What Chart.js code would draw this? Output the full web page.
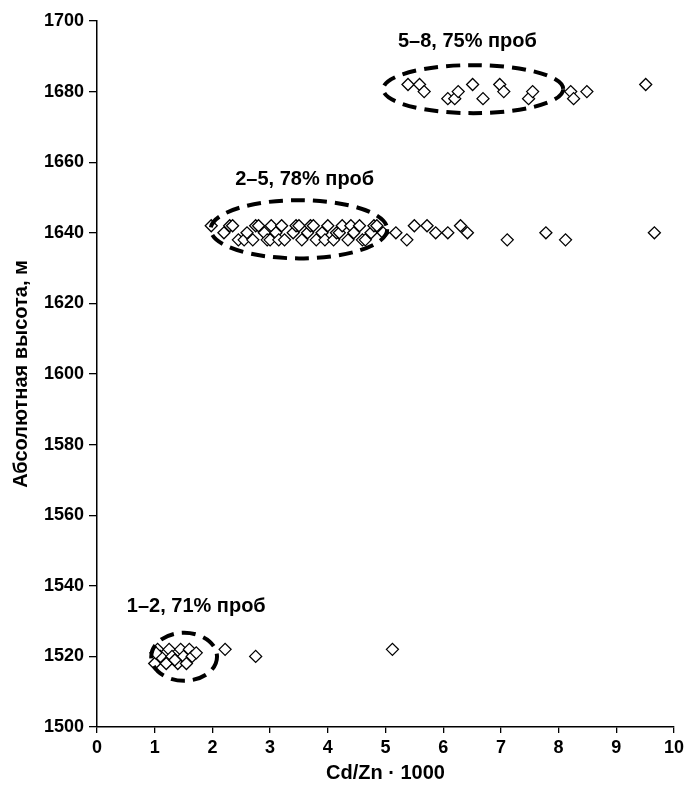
<!DOCTYPE html>
<html lang="ru">
<head>
    <meta charset="UTF-8">
    <title>Cd/Zn</title>
    <script src="https://cdn.jsdelivr.net/npm/chart.js"></script>
    <style>
        body { margin: 0; background: #fff; }
    </style>
</head>
<body>
    <div style="width: 688px; height: 786px;">
        <canvas id="grafico1"></canvas>
    </div>
    <script>
        // точки: Cd/Zn*1000 и абсолютная высота
        const x12 = [1.0, 1.05, 1.1, 1.2, 1.25, 1.3, 1.4, 1.45, 1.5, 1.55, 1.6, 1.65, 1.72, 1.02, 1.35, 2.22, 2.75, 5.12]
        const y12 = [1518, 1522, 1520, 1518, 1522, 1520, 1518, 1522, 1520, 1518, 1522, 1520, 1521, 1521, 1519, 1522, 1520, 1522]

        const x25 = [1.98, 2.2, 2.3, 2.35, 2.45, 2.55, 2.6, 2.7, 2.75, 2.8, 2.9, 2.95, 3.0, 3.02, 3.1, 3.15, 3.2, 3.25, 3.4, 3.45, 3.5, 3.55, 3.65, 3.7, 3.75, 3.8, 3.9, 3.95,
                     4.0, 4.1, 4.15, 4.2, 4.25, 4.35, 4.4, 4.45, 4.55, 4.6, 4.65, 4.75, 4.8, 4.85, 4.96,
                     5.18, 5.37, 5.5, 5.72, 5.87, 6.08, 6.3, 6.42, 7.11, 7.78, 8.12, 9.66]
        const y25 = [1642, 1640, 1642, 1642, 1638, 1638, 1640, 1638, 1642, 1642, 1640, 1638, 1638, 1642, 1640, 1638, 1642, 1638, 1640, 1642, 1642, 1638, 1640, 1642, 1642, 1638, 1640, 1638,
                     1642, 1638, 1640, 1640, 1642, 1638, 1642, 1640, 1642, 1638, 1638, 1640, 1642, 1642, 1640,
                     1640, 1638, 1642, 1642, 1640, 1640, 1642, 1640, 1638, 1640, 1638, 1640]

        const x58 = [5.39, 5.59, 5.67, 6.08, 6.2, 6.26, 6.51, 6.69, 6.98, 7.05, 7.48, 7.55, 8.21, 8.26, 8.49, 9.51]
        const y58 = [1682, 1682, 1680, 1678, 1678, 1680, 1682, 1678, 1682, 1680, 1678, 1680, 1680, 1678, 1680, 1682]

        // подписи групп и эллипсы (центр, полуоси в единицах осей)
        const grupos = ["1–2, 71% проб", "2–5, 78% проб", "5–8, 75% проб"]
        const grupoX = [1.72, 3.6, 6.42]
        const grupoY = [1534.0, 1655.2, 1694.3]
        const elipseX = [1.51, 3.5, 6.52]
        const elipseY = [1519.9, 1641, 1680.7]
        const elipseRx = [0.57, 1.53, 1.56]
        const elipseRy = [6.8, 8.25, 6.8]

        const pontos = (xs, ys) => xs.map((x, i) => ({ x: x, y: ys[i] }))
        const todos = pontos(x12, y12).concat(pontos(x25, y25), pontos(x58, y58))

        const fonte = "'Liberation Sans', Arial, sans-serif"

        const elipses = {
          id: 'elipses',
          afterDatasetsDraw(chart) {
            const c = chart.ctx
            const sx = chart.scales.x
            const sy = chart.scales.y
            c.save()
            c.strokeStyle = '#000'
            c.lineWidth = 4
            c.setLineDash([14, 8])
            for (let i = 0; i < elipseX.length; i++) {
              const cx = sx.getPixelForValue(elipseX[i])
              const cy = sy.getPixelForValue(elipseY[i])
              const rx = sx.getPixelForValue(elipseX[i] + elipseRx[i]) - cx
              const ry = cy - sy.getPixelForValue(elipseY[i] + elipseRy[i])
              c.beginPath()
              c.ellipse(cx, cy, rx, ry, 0, 0, Math.PI * 2)
              c.stroke()
            }
            c.setLineDash([])
            c.fillStyle = '#000'
            c.font = "bold 20px " + fonte
            c.textAlign = 'center'
            c.textBaseline = 'middle'
            for (let i = 0; i < grupos.length; i++) {
              c.fillText(grupos[i], sx.getPixelForValue(grupoX[i]), sy.getPixelForValue(grupoY[i]))
            }
            c.restore()
          }
        }

        const ctx = document.getElementById('grafico1')
        let grafico1 = new Chart(ctx, {
          type: 'scatter',
          data: {
            datasets: [{
              data: todos,
              pointStyle: 'rectRot',
              pointRadius: 6,
              pointBorderWidth: 1.3,
              borderColor: '#000',
              backgroundColor: '#fff'
            }]
          },
          options: {
            responsive: true,
            maintainAspectRatio: false,
            animation: false,
            events: [],
            layout: { padding: { top: 21, right: 10, left: 0, bottom: 0 } },
            plugins: { legend: { display: false }, tooltip: { enabled: false } },
            scales: {
              x: {
                min: 0, max: 10,
                afterFit: s => { s.height = 59 },
                ticks: { stepSize: 1, color: '#000', padding: 4, callback: v => String(v), font: { family: fonte, size: 18, weight: 'bold' } },
                grid: { drawOnChartArea: false, drawTicks: true, tickLength: 6, color: '#000', lineWidth: 1.3 },
                border: { color: '#000', width: 1.5 },
                title: { display: true, text: 'Cd/Zn · 1000', color: '#000', padding: { top: 0, bottom: 1 }, font: { family: fonte, size: 20, weight: 'bold' } }
              },
              y: {
                min: 1500, max: 1700,
                afterFit: s => { s.width = 97 },
                ticks: { stepSize: 20, color: '#000', padding: 5, callback: v => String(v), font: { family: fonte, size: 18, weight: 'bold' } },
                grid: { drawOnChartArea: false, drawTicks: true, tickLength: 8, color: '#000', lineWidth: 1.3 },
                border: { color: '#000', width: 1.5 },
                title: { display: true, text: 'Абсолютная высота, м', color: '#000', padding: { top: 9, bottom: 0 }, font: { family: fonte, size: 20, weight: 'bold' } }
              }
            }
          },
          plugins: [elipses]
        })
    </script>
</body>
</html>
